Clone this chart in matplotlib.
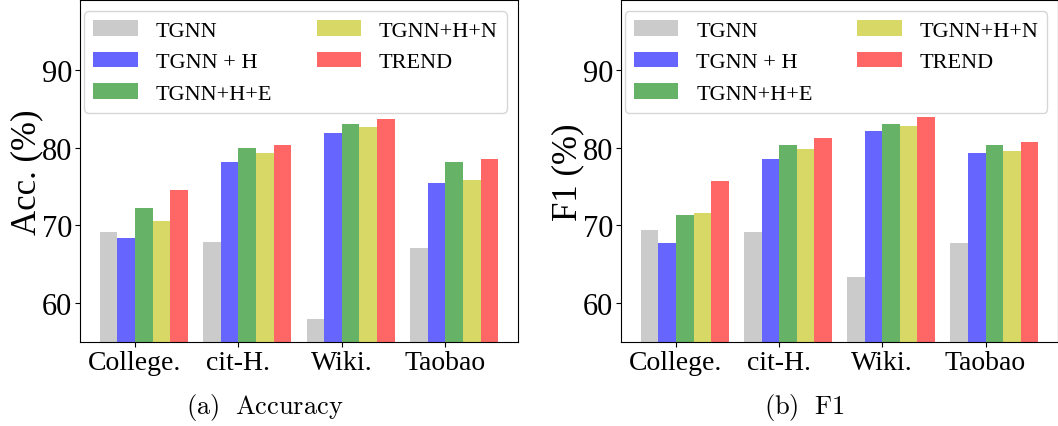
import numpy as np
import matplotlib
matplotlib.use("Agg")
import matplotlib.pyplot as plt

plt.rcParams['font.family'] = 'serif'
plt.rcParams['font.serif'] = ['Liberation Serif', 'DejaVu Serif']
plt.rcParams['mathtext.fontset'] = 'cm'

datasets = ['College.', 'cit-H.', 'Wiki.', 'Taobao']
methods = ['TGNN', 'TGNN + H', 'TGNN+H+E', 'TGNN+H+N', 'TREND']
colors = ['darkgray', 'blue', 'green', 'y', 'red']

# accuracy (%) per method, one value per dataset
acc_tgnn = [69.1, 67.9, 58.0, 67.1]
acc_h = [68.4, 78.1, 81.9, 75.4]
acc_he = [72.3, 80.0, 83.1, 78.1]
acc_hn = [70.6, 79.3, 82.7, 75.9]
acc_trend = [74.5, 80.4, 83.7, 78.6]

# F1 (%) per method
f1_tgnn = [69.4, 69.1, 63.4, 67.7]
f1_h = [67.7, 78.6, 82.1, 79.3]
f1_he = [71.4, 80.3, 83.1, 80.4]
f1_hn = [71.6, 79.8, 82.8, 79.6]
f1_trend = [75.7, 81.2, 83.9, 80.7]

acc = [acc_tgnn, acc_h, acc_he, acc_hn, acc_trend]
f1 = [f1_tgnn, f1_h, f1_he, f1_hn, f1_trend]

W = 0.17        # bar width
x = np.arange(len(datasets))

fig = plt.figure(figsize=(10.58, 4.27), dpi=100)
ax1 = fig.add_axes([0.0756, 0.1967, 0.414, 0.801])
ax2 = fig.add_axes([0.587, 0.1967, 0.413, 0.801])


def draw(ax, series, ylabel):
    for i, (vals, name, c) in enumerate(zip(series, methods, colors)):
        ax.bar(x + (i - 2) * W, vals, W, align='edge', color=c, alpha=0.6, label=name)
    ax.set_ylim(55, 99)
    ax.set_yticks([60, 70, 80, 90])
    ax.set_xticks(x)
    ax.set_xticklabels(datasets)
    ax.tick_params(axis='y', labelsize=22, pad=2)
    ax.tick_params(axis='x', labelsize=20, pad=2)
    ax.set_ylabel(ylabel, fontsize=25, labelpad=-1)
    ax.legend(loc='upper center', bbox_to_anchor=(0.492, 1.0), ncol=2, fontsize=16)


draw(ax1, acc, 'Acc. (%)')
draw(ax2, f1, 'F1 (%)')

fig.text(0.25, 0.045, r'$\mathrm{(a)\ \ Accuracy}$', fontsize=19, ha='center', va='center')
fig.text(0.76, 0.045, r'$\mathrm{(b)\ \ F1}$', fontsize=19, ha='center', va='center')

fig.savefig('out.png', dpi=100)
